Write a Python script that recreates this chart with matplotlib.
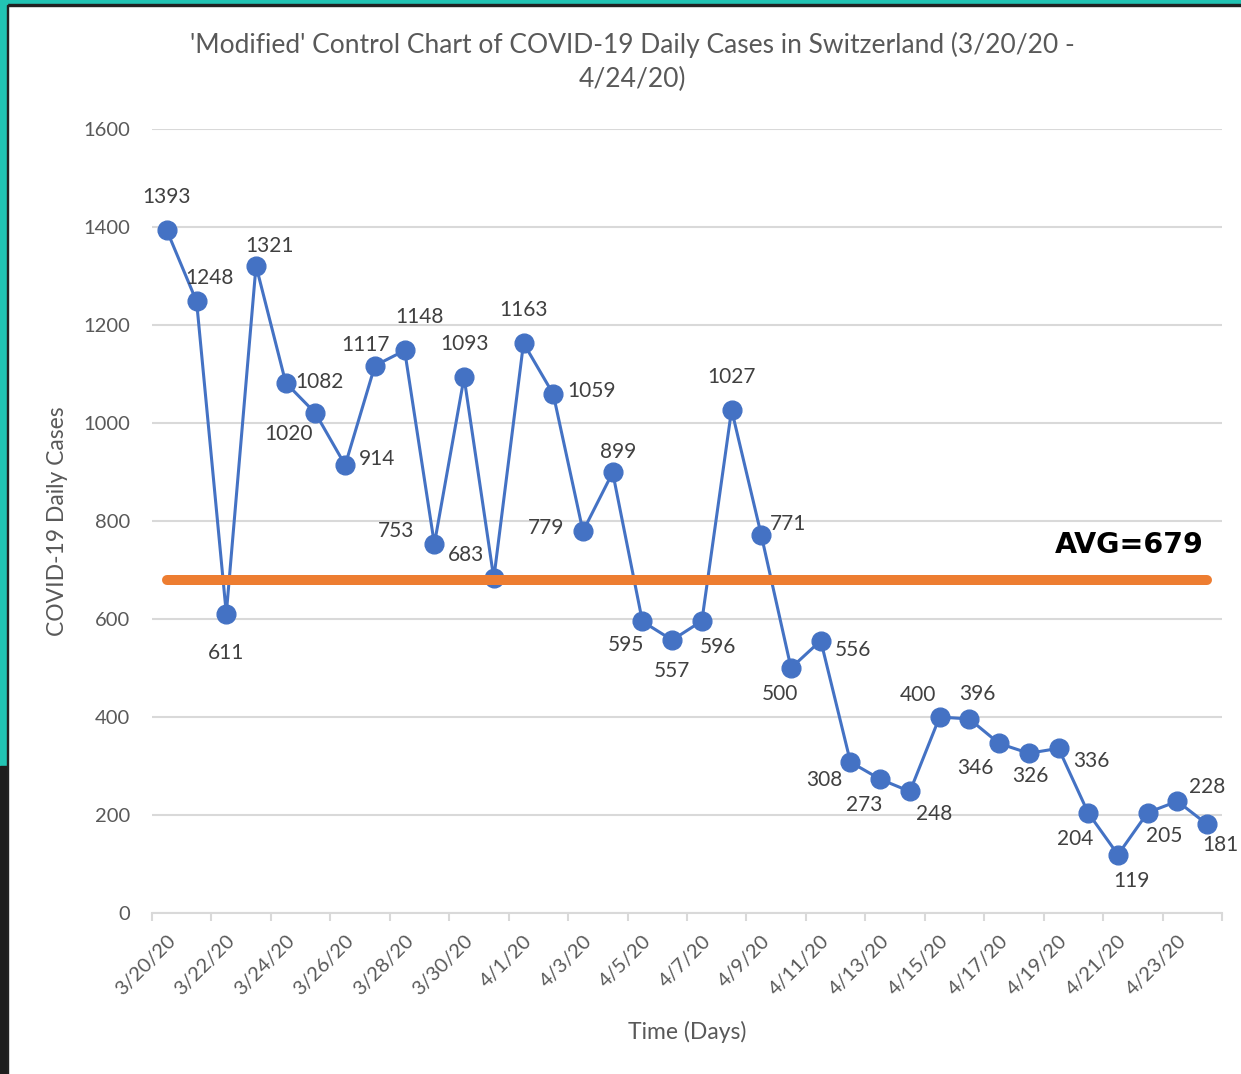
import matplotlib
matplotlib.use('Agg')
import matplotlib.pyplot as plt
from matplotlib.patches import Rectangle
import numpy as np

# daily cases, 3/20/20 - 4/24/20
dates = ['3/20/20', '3/21/20', '3/22/20', '3/23/20', '3/24/20', '3/25/20',
         '3/26/20', '3/27/20', '3/28/20', '3/29/20', '3/30/20', '3/31/20',
         '4/1/20', '4/2/20', '4/3/20', '4/4/20', '4/5/20', '4/6/20',
         '4/7/20', '4/8/20', '4/9/20', '4/10/20', '4/11/20', '4/12/20',
         '4/13/20', '4/14/20', '4/15/20', '4/16/20', '4/17/20', '4/18/20',
         '4/19/20', '4/20/20', '4/21/20', '4/22/20', '4/23/20', '4/24/20']
cases = [1393, 1248, 611, 1321, 1082, 1020, 914, 1117, 1148, 753, 1093, 683,
         1163, 1059, 779, 899, 595, 557, 596, 1027, 771, 500, 556, 308,
         273, 248, 400, 396, 346, 326, 336, 204, 119, 205, 228, 181]
avg = 679

# label offsets in pixels (dx, dy), screen y pointing down
lbl_off = [(0, -35), (13, -25), (0, 37), (13, -22), (34, -3), (-27, 19),
           (32, -8), (-9, -23), (15, -35), (-38, -15), (0, -35), (-28, -25),
           (0, -35), (38, -5), (-37, -5), (5, -22), (-16, 22), (0, 29),
           (16, 24), (0, -35), (27, -13), (-11, 24), (32, 7), (-26, 16),
           (-16, 24), (24, 21), (-22, -24), (8, -27), (-24, 23), (2, 21),
           (33, 11), (-13, 24), (13, 24), (16, 21), (30, -16), (13, 19)]

plt.rcParams['font.family'] = ['Lato', 'DejaVu Sans']

W, H = 1241, 1074
fig = plt.figure(figsize=(W / 100, H / 100), dpi=100)
ax = fig.add_axes([152 / W, 161 / H, 1070 / W, 784 / H])

x = np.arange(len(cases))
ax.plot(x, cases, color='#4472C4', linewidth=2.2, marker='o', markersize=13.5, zorder=3)
ax.plot(x, [avg] * len(x), color='#ED7D31', linewidth=7.2, solid_capstyle='round', zorder=4)

for xi, v, (dx, dy) in zip(x, cases, lbl_off):
    ax.annotate(str(v), (xi, v), xytext=(dx * 0.72, -(dy + 2) * 0.72), textcoords='offset points',
                ha='center', va='center', fontsize=15, color='#404040', zorder=5)

ax.text(0.983, 752, 'AVG=679', transform=ax.get_yaxis_transform(), ha='right', va='center',
        fontsize=20.5, fontweight='bold', color='black', family='DejaVu Sans')

ax.set_xlim(-0.5, len(cases) - 0.5)
ax.set_ylim(0, 1600)
ax.set_yticks(np.arange(0, 1601, 200))
ax.yaxis.grid(True, color='#d9d9d9', linewidth=1.5)
ax.set_axisbelow(True)
for s in ['top', 'right', 'left']:
    ax.spines[s].set_visible(False)
ax.spines['bottom'].set_color('#d9d9d9')
ax.spines['bottom'].set_linewidth(1.5)

ax.tick_params(axis='y', length=0, pad=16, labelsize=14.5, labelcolor='#595959')
ax.set_xticks(x[::2])
ax.set_xticklabels(dates[::2], rotation=45, ha='right', va='top', rotation_mode='anchor')
ax.tick_params(axis='x', which='major', length=0, pad=14, labelsize=14.5, labelcolor='#595959')
ax.set_xticks(np.arange(-0.5, len(cases), 2), minor=True)
ax.tick_params(axis='x', which='minor', length=6, width=1.5, color='#d9d9d9')

ax.text(0.5, -0.152, 'Time (Days)', transform=ax.transAxes, ha='center', va='center',
        fontsize=16.5, color='#595959')
ax.text(-0.0879, 0.5, 'COVID-19 Daily Cases', transform=ax.transAxes, ha='center', va='center',
        rotation=90, fontsize=16.5, color='#595959')

fig.text(632 / W, 1 - 45 / H, "'Modified' Control Chart of COVID-19 Daily Cases in Switzerland (3/20/20 -",
         ha='center', va='center', fontsize=19, color='#595959')
fig.text(632 / W, 1 - 79 / H, '4/24/20)', ha='center', va='center', fontsize=19, color='#595959')

# frame around the chart
teal = '#22C4B4'
fig.add_artist(Rectangle((0, 1 - 5 / H), 1, 5 / H, transform=fig.transFigure, color=teal, zorder=10))
fig.add_artist(Rectangle((0, 1 - 6 / H), 1, 1.6 / H, transform=fig.transFigure, color='#222222', zorder=10))
fig.add_artist(Rectangle((0, 0), 7 / W, 1, transform=fig.transFigure, color=teal, zorder=10))
fig.add_artist(Rectangle((0, 0), 7 / W, (H - 766) / H, transform=fig.transFigure, color='#1e1e1e', zorder=11))
fig.add_artist(Rectangle((6.5 / W, 0), 1.6 / W, 1 - 5 / H, transform=fig.transFigure, color='#222222', zorder=11))

fig.savefig('out.png', dpi=100)
